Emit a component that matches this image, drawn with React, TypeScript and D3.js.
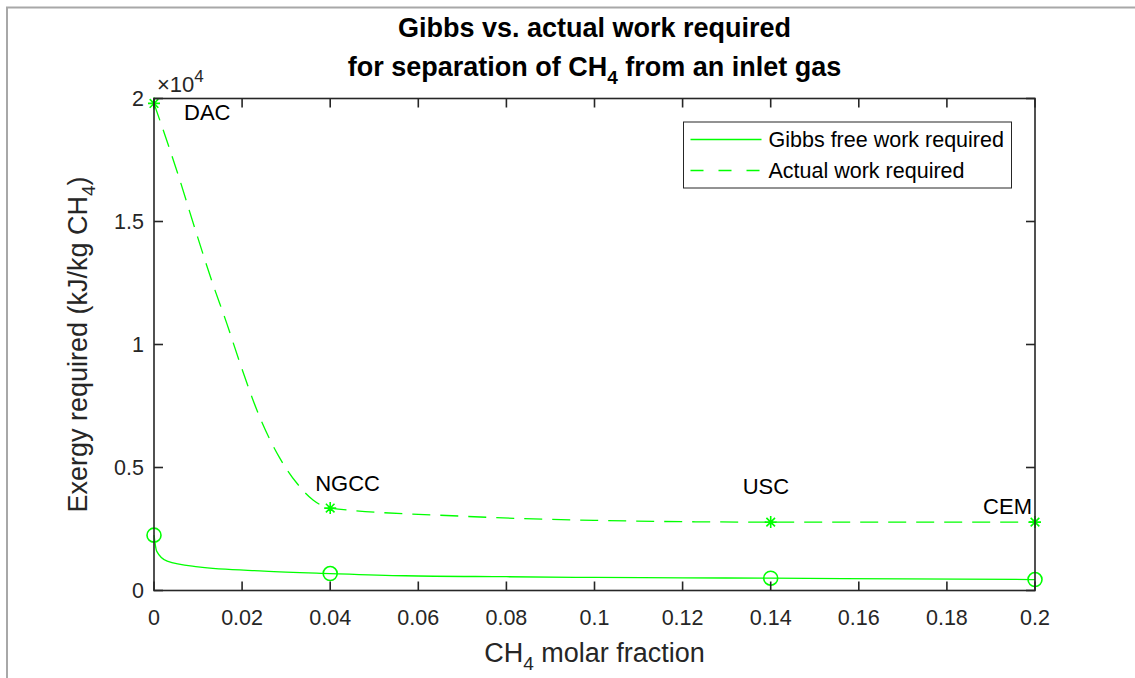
import React from "react";
import * as d3 from "d3";

// CH4 molar fraction of the inlet gas for each capture site
const siteNames = ["DAC", "NGCC", "USC", "CEM"];
const siteFractions = [0, 0.04, 0.14, 0.2];
const siteGibbs = [2250, 690, 500, 445];
const siteActual = [19800, 3350, 2780, 2780];

// Gibbs free (minimum) work curve, kJ/kg CH4
const gibbsCurveX = [0, 0.0006, 0.003, 0.01, 0.025, 0.04, 0.057, 0.08, 0.1, 0.12, 0.14, 0.17, 0.2];
const gibbsCurveY = [2250, 1600, 1190, 960, 790, 690, 600, 560, 530, 515, 500, 470, 445];

// Actual work curve, kJ/kg CH4
const actualCurveX = [0, 0.0055, 0.0094, 0.0132, 0.0165, 0.0195, 0.024, 0.0284, 0.0324, 0.0361, 0.04, 0.07, 0.1, 0.14, 0.17, 0.2];
const actualCurveY = [19800, 16890, 14650, 12540, 10870, 9250, 7050, 5430, 4370, 3680, 3350, 3020, 2850, 2780, 2780, 2780];

const fractionTicks = [0, 0.02, 0.04, 0.06, 0.08, 0.1, 0.12, 0.14, 0.16, 0.18, 0.2];
const exergyTicks = [0, 5000, 10000, 15000, 20000];

const legendLabels = ["Gibbs free work required", "Actual work required"];

const W = 1135;
const H = 678;
const plot = { left: 154, right: 1035, top: 98.5, bottom: 590.5 };
const axisColor = "#262626";
const green = "#00ff00";
const font = "'Liberation Sans', Arial, Helvetica, sans-serif";

export default function App() {
  const x = d3.scaleLinear().domain([0, 0.2]).range([plot.left, plot.right]);
  const y = d3.scaleLinear().domain([0, 20000]).range([plot.bottom, plot.top]);

  const line = d3
    .line<[number, number]>()
    .x((d) => x(d[0]))
    .y((d) => y(d[1]))
    .curve(d3.curveMonotoneX);

  const gibbsPts: [number, number][] = gibbsCurveX.map((v, i) => [v, gibbsCurveY[i]]);
  const actualPts: [number, number][] = actualCurveX.map((v, i) => [v, actualCurveY[i]]);

  const tickLen = 9;
  const fmtX = (v: number) => (v === 0 ? "0" : d3.format("~g")(v));
  const fmtY = (v: number) => d3.format("~g")(v / 1e4);

  // label placement relative to each site's actual-work marker
  const labelPlacement: Record<string, { dx: number; dy: number; anchor: string }> = {
    DAC: { dx: 30, dy: 17, anchor: "start" },
    NGCC: { dx: -15, dy: -17, anchor: "start" },
    USC: { dx: -28, dy: -28, anchor: "start" },
    CEM: { dx: -3, dy: -8, anchor: "end" },
  };

  const star = (cx: number, cy: number, key: string) => {
    const r = 6;
    const d = 4.3;
    return (
      <path
        key={key}
        d={`M${cx - r},${cy}H${cx + r}M${cx},${cy - r}V${cy + r}M${cx - d},${cy - d}L${cx + d},${cy + d}M${cx - d},${cy + d}L${cx + d},${cy - d}`}
        stroke={green}
        strokeWidth={1.6}
        fill="none"
      />
    );
  };

  const legend = { x: 683.5, y: 122, w: 328, h: 66 };

  return (
    <svg width={W} height={H} style={{ display: "block", position: "absolute", left: 0, top: 0 }} fontFamily={font}>
      <rect x={0} y={0} width={W} height={H} fill="#ffffff" />
      {/* figure frame */}
      <path d={`M7,${H}V7.5H${W}`} fill="none" stroke="#a8a8a8" strokeWidth={2} />

      {/* title */}
      <text x={(plot.left + plot.right) / 2} y={37} textAnchor="middle" fontSize={27} fontWeight="bold" fill="#000">
        Gibbs vs. actual work required
      </text>
      <text x={(plot.left + plot.right) / 2} y={76} textAnchor="middle" fontSize={27} fontWeight="bold" fill="#000">
        <tspan>for separation of CH</tspan>
        <tspan fontSize={19} dy={8}>4</tspan>
        <tspan dy={-8}> from an inlet gas</tspan>
      </text>

      {/* curves */}
      <path d={line(gibbsPts) ?? ""} fill="none" stroke={green} strokeWidth={1.3} />
      <path d={line(actualPts) ?? ""} fill="none" stroke={green} strokeWidth={1.3} strokeDasharray="18 10" />

      {/* markers */}
      {siteFractions.map((f, i) => (
        <circle key={`c${i}`} cx={x(f)} cy={y(siteGibbs[i])} r={7} fill="none" stroke={green} strokeWidth={1.6} />
      ))}
      {siteFractions.map((f, i) => star(x(f), y(siteActual[i]), `s${i}`))}

      {/* site labels */}
      {siteNames.map((name, i) => {
        const p = labelPlacement[name];
        return (
          <text
            key={name}
            x={x(siteFractions[i]) + p.dx}
            y={y(siteActual[i]) + p.dy}
            textAnchor={p.anchor}
            fontSize={22}
            fill="#000"
          >
            {name}
          </text>
        );
      })}

      {/* axes box */}
      <rect
        x={plot.left}
        y={plot.top}
        width={plot.right - plot.left}
        height={plot.bottom - plot.top}
        fill="none"
        stroke={axisColor}
        strokeWidth={1.6}
      />
      {fractionTicks.map((t) => (
        <g key={`xt${t}`}>
          <line x1={x(t)} x2={x(t)} y1={plot.bottom} y2={plot.bottom - tickLen} stroke={axisColor} strokeWidth={1.6} />
          <line x1={x(t)} x2={x(t)} y1={plot.top} y2={plot.top + tickLen} stroke={axisColor} strokeWidth={1.6} />
          <text x={x(t)} y={625} textAnchor="middle" fontSize={21.5} fill={axisColor}>
            {fmtX(t)}
          </text>
        </g>
      ))}
      {exergyTicks.map((t) => (
        <g key={`yt${t}`}>
          <line x1={plot.left} x2={plot.left + tickLen} y1={y(t)} y2={y(t)} stroke={axisColor} strokeWidth={1.6} />
          <line x1={plot.right} x2={plot.right - tickLen} y1={y(t)} y2={y(t)} stroke={axisColor} strokeWidth={1.6} />
          <text x={plot.left - 10} y={y(t)} dy="0.36em" textAnchor="end" fontSize={21.5} fill={axisColor}>
            {fmtY(t)}
          </text>
        </g>
      ))}

      {/* exponent */}
      <text x={157} y={92} fontSize={22} fill={axisColor}>
        <tspan>×10</tspan>
        <tspan fontSize={17} dy={-10}>4</tspan>
      </text>

      {/* axis labels */}
      <text x={(plot.left + plot.right) / 2} y={662} textAnchor="middle" fontSize={27} fill={axisColor}>
        <tspan>CH</tspan>
        <tspan fontSize={19} dy={8}>4</tspan>
        <tspan dy={-8}> molar fraction</tspan>
      </text>
      <text
        transform={`translate(87,${(plot.top + plot.bottom) / 2}) rotate(-90)`}
        textAnchor="middle"
        fontSize={27}
        fill={axisColor}
      >
        <tspan>Exergy required (kJ/kg CH</tspan>
        <tspan fontSize={19} dy={8}>4</tspan>
        <tspan dy={-8}>)</tspan>
      </text>

      {/* legend */}
      <rect x={legend.x} y={legend.y} width={legend.w} height={legend.h} fill="#ffffff" stroke={axisColor} strokeWidth={1} />
      {legendLabels.map((lab, i) => {
        const ly = legend.y + 17.5 + i * 31;
        return (
          <g key={lab}>
            <line
              x1={legend.x + 7}
              x2={legend.x + 78}
              y1={ly}
              y2={ly}
              stroke={green}
              strokeWidth={1.3}
              strokeDasharray={i === 1 ? "13 15" : undefined}
            />
            <text x={legend.x + 85} y={ly} dy="0.36em" fontSize={21.5} fill="#000">
              {lab}
            </text>
          </g>
        );
      })}
    </svg>
  );
}
